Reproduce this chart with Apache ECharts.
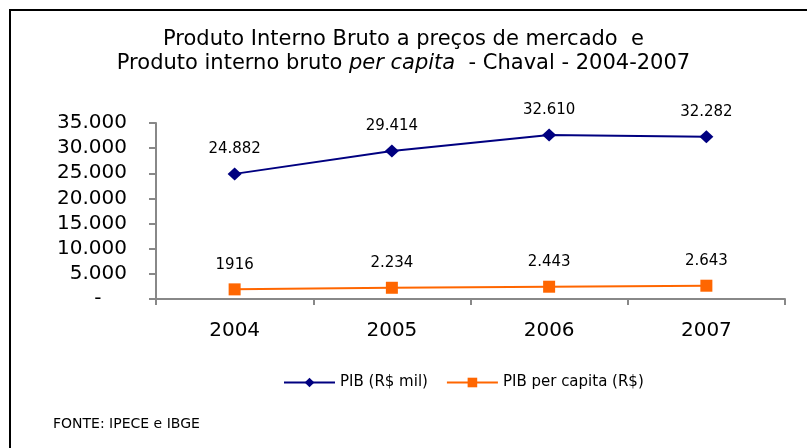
<!DOCTYPE html>
<html>
<head>
<meta charset="utf-8">
<script src="https://cdn.jsdelivr.net/npm/echarts@6/dist/echarts.min.js"></script>
<style>
  html, body { margin: 0; padding: 0; background: #fff; }
  #chart { width: 807px; height: 448px; }
</style>
</head>
<body>
<div id="chart"></div>
<script>
// dados
var anos = ['2004', '2005', '2006', '2007'];
var pibMil = [24882, 29414, 32610, 32282];
var pibPerCapita = [1916, 2234, 2443, 2643];
var pibMilLabels = ['24.882', '29.414', '32.610', '32.282'];
var perCapitaLabels = ['1916', '2.234', '2.443', '2.643'];
var yTicks = [0, 5000, 10000, 15000, 20000, 25000, 30000, 35000];

var fonte = 'DejaVu Sans';

function fmtMilhar(v) {
    if (v === 0) return '-    ';
    return String(v).replace(/\B(?=(\d{3})+(?!\d))/g, '.');
}

var myChart = echarts.init(document.getElementById('chart'));
var option = {
    backgroundColor: '#fff',
    animation: false,
    title: {
        text: '{n|Produto Interno Bruto a preços de mercado  e}\n{n|Produto interno bruto }{i|per capita}{n|  - Chaval - 2004-2007}',
        left: 'center',
        top: 23,
        textStyle: {
            fontWeight: 'normal',
            rich: {
                n: { fontFamily: fonte, fontSize: 21, fontWeight: 'normal', color: '#000', lineHeight: 24 },
                i: { fontFamily: fonte, fontSize: 21, fontWeight: 'normal', color: '#000', fontStyle: 'italic', lineHeight: 24 }
            }
        }
    },
    legend: {
        bottom: 53,
        left: 278,
        itemWidth: 51,
        itemHeight: 12,
        itemGap: 18,
        textStyle: { fontFamily: fonte, fontSize: 15, color: '#000' },
        data: ['PIB (R$ mil)', 'PIB per capita (R$)']
    },
    grid: {
        left: 156,
        right: 22,
        top: 123,
        bottom: 149
    },
    xAxis: {
        type: 'category',
        data: anos,
        boundaryGap: true,
        axisLine: { lineStyle: { color: '#888', width: 2 } },
        axisTick: { show: true, length: 6, lineStyle: { color: '#888', width: 2 } },
        axisLabel: { fontFamily: fonte, fontSize: 20, color: '#000', margin: 22 }
    },
    yAxis: {
        type: 'value',
        min: yTicks[0],
        max: yTicks[yTicks.length - 1],
        interval: yTicks[1] - yTicks[0],
        splitLine: { show: false },
        axisLine: { show: true, lineStyle: { color: '#888', width: 2 } },
        axisTick: { show: true, length: 7, lineStyle: { color: '#888', width: 2 } },
        axisLabel: {
            fontFamily: fonte, fontSize: 20, color: '#000', margin: 29,
            formatter: fmtMilhar
        }
    },
    series: [
        {
            name: 'PIB (R$ mil)',
            type: 'line',
            data: pibMil,
            symbol: 'diamond',
            symbolSize: [14, 13],
            itemStyle: { color: '#000080' },
            lineStyle: { color: '#000080', width: 2 },
            label: {
                show: true, position: 'top', distance: 11,
                fontFamily: fonte, fontSize: 15, color: '#000',
                formatter: function (p) { return pibMilLabels[p.dataIndex]; }
            }
        },
        {
            name: 'PIB per capita (R$)',
            type: 'line',
            data: pibPerCapita,
            symbol: 'rect',
            symbolSize: 12,
            itemStyle: { color: '#FF6600' },
            lineStyle: { color: '#FF6600', width: 2 },
            label: {
                show: true, position: 'top', distance: 11,
                fontFamily: fonte, fontSize: 15, color: '#000',
                formatter: function (p) { return perCapitaLabels[p.dataIndex]; }
            }
        }
    ],
    graphic: [
        {
            type: 'polyline',
            shape: { points: [[10, 448], [10, 10], [807, 10]] },
            style: { stroke: '#000', lineWidth: 2, fill: null }
        },
        {
            type: 'text',
            left: 53,
            top: 417,
            style: { text: 'FONTE: IPECE e IBGE', font: '14px "DejaVu Sans"', fill: '#000' }
        }
    ]
};
if (option && typeof option === 'object') {
    myChart.setOption(option, true);
}
window.addEventListener('resize', function () {
    myChart.resize();
});
</script>
</body>
</html>
